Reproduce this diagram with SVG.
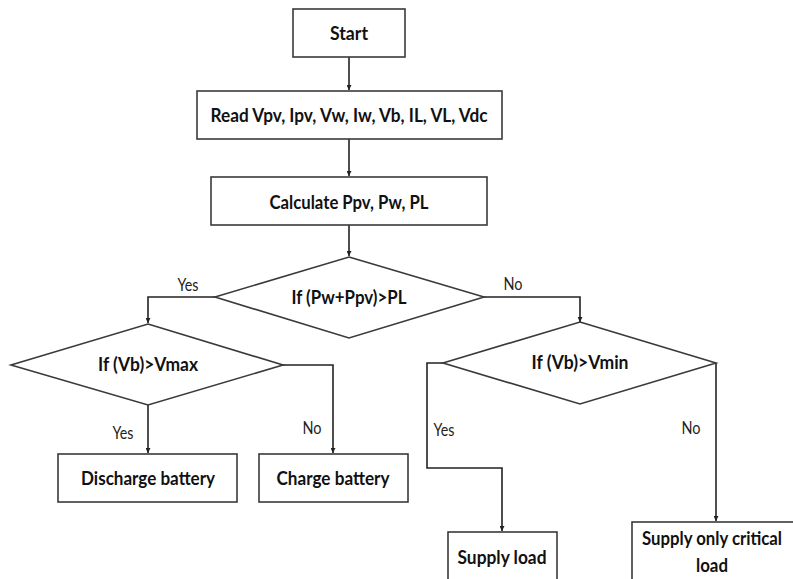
<svg xmlns="http://www.w3.org/2000/svg" width="793" height="579" viewBox="0 0 793 579">
<defs>
<style>
.box{fill:#fff;stroke:#3a3a3a;stroke-width:1.6}
.t{font-family:Lato,"Open Sans","Liberation Sans",sans-serif;font-weight:bold;font-size:19.5px;fill:#111;text-anchor:middle}
.l{font-family:Lato,"Open Sans","Liberation Sans",sans-serif;font-size:17px;fill:#222;text-anchor:middle}
.c{fill:none;stroke:#222;stroke-width:1.6}
</style>
<marker id="ah" viewBox="0 0 10 10" refX="10" refY="5" markerWidth="5" markerHeight="5" orient="auto" markerUnits="userSpaceOnUse">
<path d="M0,0 L10,5 L0,10 z" fill="#222"/>
</marker>
</defs>
<rect width="793" height="579" fill="#fff"/>
<g id="connectors">
<path class="c" d="M349,56 V90" marker-end="url(#ah)"/>
<path class="c" d="M349,139 V176" marker-end="url(#ah)"/>
<path class="c" d="M349,225 V256" marker-end="url(#ah)"/>
<path class="c" d="M215,297 H148 V323" marker-end="url(#ah)"/>
<path class="c" d="M484,297 H580 V322" marker-end="url(#ah)"/>
<path class="c" d="M148,405 V453" marker-end="url(#ah)"/>
<path class="c" d="M283,365 H333 V453" marker-end="url(#ah)"/>
<path class="c" d="M443,363 H427 V468 H502 V531" marker-end="url(#ah)"/>
<path class="c" d="M716,363 V521" marker-end="url(#ah)"/>
<text class="l" x="188" y="291" textLength="21" lengthAdjust="spacingAndGlyphs">Yes</text>
<text class="l" x="513" y="290" textLength="19" lengthAdjust="spacingAndGlyphs">No</text>
<text class="l" x="123" y="439" textLength="21" lengthAdjust="spacingAndGlyphs">Yes</text>
<text class="l" x="312" y="434" textLength="19" lengthAdjust="spacingAndGlyphs">No</text>
<text class="l" x="444" y="436" textLength="21" lengthAdjust="spacingAndGlyphs">Yes</text>
<text class="l" x="691" y="434" textLength="19" lengthAdjust="spacingAndGlyphs">No</text>
</g>
<g id="start">
<rect class="box" x="293" y="9" width="112" height="48"/>
<text class="t" x="349" y="40" textLength="38" lengthAdjust="spacingAndGlyphs">Start</text>
</g>
<g id="read">
<rect class="box" x="197" y="91" width="305" height="48"/>
<text class="t" x="349" y="122" textLength="277" lengthAdjust="spacingAndGlyphs">Read Vpv, Ipv, Vw, Iw, Vb, IL, VL, Vdc</text>
</g>
<g id="calc">
<rect class="box" x="211" y="177" width="276" height="48"/>
<text class="t" x="349" y="209" textLength="159" lengthAdjust="spacingAndGlyphs">Calculate Ppv, Pw, PL</text>
</g>
<g id="dec1">
<polygon class="box" points="349,257 484,297 349,338 215,297"/>
<text class="t" x="349" y="304" textLength="115" lengthAdjust="spacingAndGlyphs">If (Pw+Ppv)&gt;PL</text>
</g>
<g id="dec2">
<polygon class="box" points="148,324 283,365 148,405 11,365"/>
<text class="t" x="148" y="371" textLength="100" lengthAdjust="spacingAndGlyphs">If (Vb)&gt;Vmax</text>
</g>
<g id="dec3">
<polygon class="box" points="580,322 716,363 580,404 443,363"/>
<text class="t" x="580" y="369" textLength="97" lengthAdjust="spacingAndGlyphs">If (Vb)&gt;Vmin</text>
</g>
<g id="discharge">
<rect class="box" x="58" y="454" width="179" height="48"/>
<text class="t" x="148" y="485" textLength="134" lengthAdjust="spacingAndGlyphs">Discharge battery</text>
</g>
<g id="charge">
<rect class="box" x="259" y="454" width="149" height="48"/>
<text class="t" x="333" y="485" textLength="113" lengthAdjust="spacingAndGlyphs">Charge battery</text>
</g>
<g id="supply">
<rect class="box" x="448" y="532" width="109" height="60"/>
<text class="t" x="502" y="564" textLength="89" lengthAdjust="spacingAndGlyphs">Supply load</text>
</g>
<g id="critical">
<rect class="box" x="632" y="522" width="170" height="70"/>
<text class="t" x="712" y="545" textLength="140" lengthAdjust="spacingAndGlyphs">Supply only critical</text>
<text class="t" x="712" y="572" textLength="32" lengthAdjust="spacingAndGlyphs">load</text>
</g>
</svg>
